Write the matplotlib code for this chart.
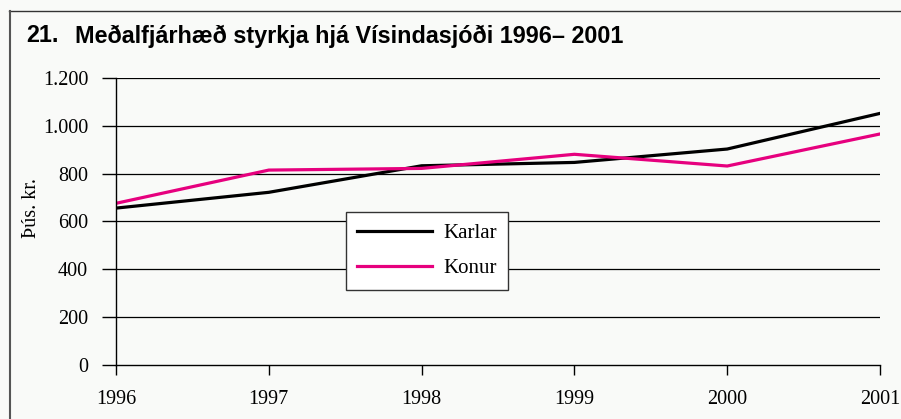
import matplotlib
matplotlib.use("Agg")
import matplotlib.pyplot as plt
from matplotlib.lines import Line2D

years = [1996, 1997, 1998, 1999, 2000, 2001]
karlar = [656, 722, 833, 847, 903, 1052]
konur = [676, 815, 822, 881, 832, 966]
yticks = [0, 200, 400, 600, 800, 1000, 1200]
ylabels = ["0", "200", "400", "600", "800", "1.000", "1.200"]
title_num = "21."
title_txt = "Meðalfjárhæð styrkja hjá Vísindasjóði 1996– 2001"

W, H = 901, 419
fig = plt.figure(figsize=(W / 100, H / 100), dpi=100)
fig.patch.set_facecolor("#f9faf8")

# outer frame lines (top and left)
fig.add_artist(Line2D([9 / W, 1.0], [1 - 11.5 / H, 1 - 11.5 / H], color="#333333", lw=1.0))
fig.add_artist(Line2D([9.5 / W, 9.5 / W], [0, 1 - 11.5 / H], color="#555555", lw=1.5))

fig.text(26 / W, 1 - 36 / H, title_num, fontsize=16.8, fontweight="bold",
         family="Liberation Sans", va="center", ha="left")
fig.text(75 / W, 1 - 36 / H, title_txt, fontsize=16.8, fontweight="bold",
         family="Liberation Sans", va="center", ha="left")

ax = fig.add_axes([116 / W, 1 - 365 / H, (880 - 116) / W, (365 - 78) / H])
ax.set_facecolor("#f9faf8")
ax.plot(years, karlar, color="black", lw=2.3, label="Karlar", solid_joinstyle="miter")
ax.plot(years, konur, color="#e6007e", lw=2.3, label="Konur", solid_joinstyle="miter")

ax.set_xlim(1996, 2001)
ax.set_ylim(0, 1200)
ax.set_yticks(yticks)
ax.set_yticklabels(ylabels)
ax.set_xticks(years)
ax.set_xticklabels([str(y) for y in years])
for v in yticks[1:]:
    ax.axhline(v, color="black", lw=0.9, zorder=0.5)

for s in ["top", "right"]:
    ax.spines[s].set_visible(False)
ax.spines["left"].set_linewidth(1.0)
ax.spines["bottom"].set_linewidth(1.0)
ax.tick_params(axis="y", direction="out", length=10, width=1.0, pad=10,
               labelsize=14.5, labelfontfamily="Liberation Serif")
ax.tick_params(axis="x", direction="out", length=7, width=1.0, pad=11,
               labelsize=14.5, labelfontfamily="Liberation Serif")

fig.text(31 / W, 1 - 208 / H, "Þús. kr.", family="Liberation Serif", fontsize=14.5,
         rotation=90, ha="center", va="center")

leg = ax.legend(loc="upper left", bbox_to_anchor=((346 - 116) / 764, (365 - 212) / 287),
                frameon=True, fancybox=False, handlelength=3.6, handletextpad=0.5,
                borderpad=0.55, labelspacing=0.75, borderaxespad=0,
                prop={"family": "Liberation Serif", "size": 15})
leg.get_frame().set_edgecolor("#333333")
leg.get_frame().set_linewidth(1.0)
leg.get_frame().set_facecolor("white")
leg.get_frame().set_alpha(1)

fig.savefig("out.png", dpi=100, facecolor=fig.get_facecolor())
